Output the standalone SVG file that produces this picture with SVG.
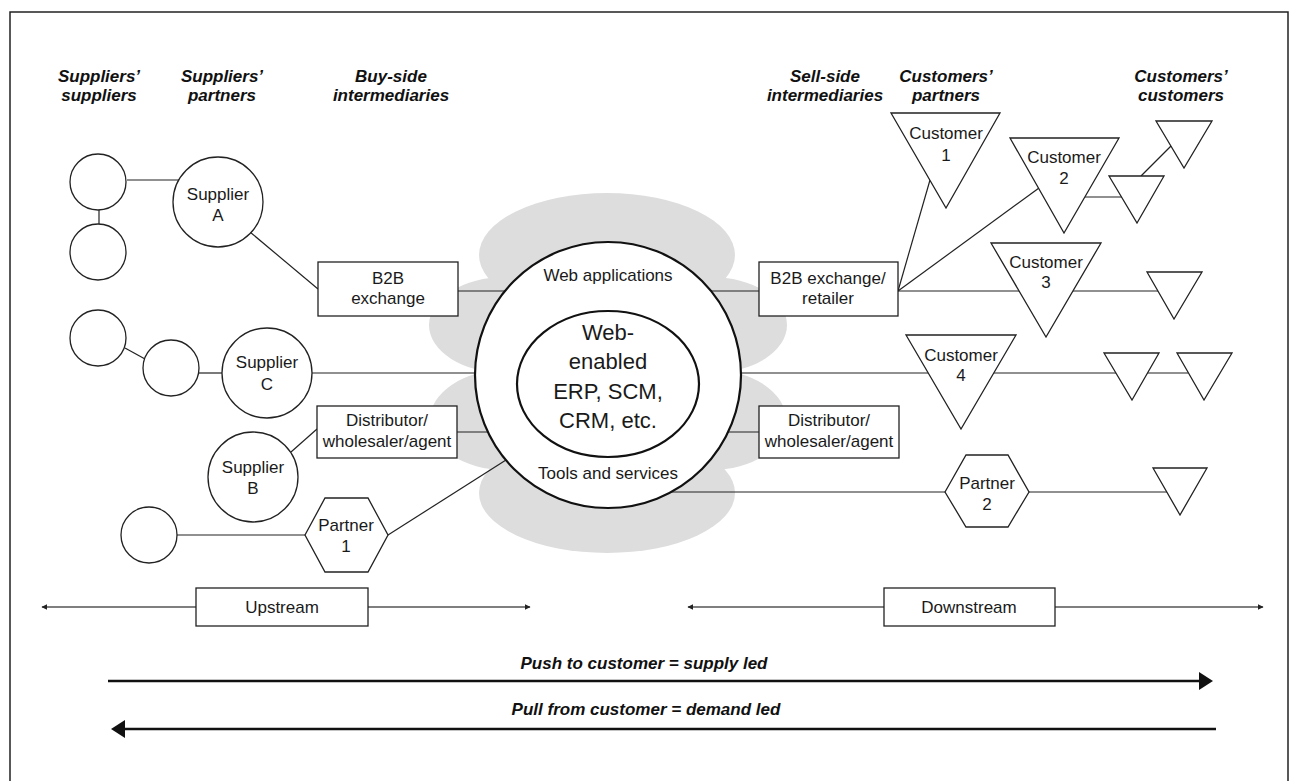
<svg xmlns="http://www.w3.org/2000/svg" width="1298" height="781" viewBox="0 0 1298 781">
<defs>
<style>
.hdr{font-family:"Liberation Sans",Arial,sans-serif;font-size:17px;font-weight:bold;font-style:italic;text-anchor:middle;fill:#111}
.lbl{font-family:"Liberation Sans",Arial,sans-serif;font-size:17px;text-anchor:middle;fill:#1a1a1a}
.big{font-size:22px}
.shape{fill:#fff;stroke:#222;stroke-width:1.3}
.core{fill:#fff;stroke:#111;stroke-width:2.2}
.conn{stroke:#222;stroke-width:1.2;fill:none}
.span{stroke:#555;stroke-width:1.6;fill:none}
.flow{stroke:#111;stroke-width:2.6;fill:none}
.cloud{fill:#dddddd}
</style>
<marker id="sm" viewBox="0 0 10 10" refX="9" refY="5" markerWidth="6" markerHeight="6" markerUnits="userSpaceOnUse" orient="auto-start-reverse">
<path d="M0,0 L10,5 L0,10 z" fill="#222"/>
</marker>
<marker id="lg" viewBox="0 0 14 18" refX="2" refY="9" markerWidth="14" markerHeight="18" markerUnits="userSpaceOnUse" orient="auto">
<path d="M0,0 L14,9 L0,18 z" fill="#111"/>
</marker>
</defs>

<path d="M10,781 V12 H1288 V781" fill="none" stroke="#222" stroke-width="1.5"/>

<g id="cloud" class="cloud">
<ellipse cx="607" cy="255" rx="128" ry="62"/>
<ellipse cx="505" cy="325" rx="76" ry="48"/>
<ellipse cx="711" cy="325" rx="76" ry="48"/>
<ellipse cx="505" cy="420" rx="75" ry="50"/>
<ellipse cx="711" cy="420" rx="75" ry="50"/>
<ellipse cx="607" cy="493" rx="128" ry="60"/>
</g>

<g id="headers" class="hdr">
<text x="99" y="82">Suppliers’</text><text x="99" y="101">suppliers</text>
<text x="222" y="82">Suppliers’</text><text x="222" y="101">partners</text>
<text x="391" y="82">Buy-side</text><text x="391" y="101">intermediaries</text>
<text x="825" y="82">Sell-side</text><text x="825" y="101">intermediaries</text>
<text x="946" y="82">Customers’</text><text x="946" y="101">partners</text>
<text x="1181" y="82">Customers’</text><text x="1181" y="101">customers</text>
</g>

<g id="connectors">
<line class="conn" x1="127" y1="180" x2="179" y2="180"/>
<line class="conn" x1="99" y1="210" x2="99" y2="224"/>
<line class="conn" x1="250" y1="232" x2="318" y2="289"/>
<line class="conn" x1="125" y1="348" x2="145" y2="359"/>
<line class="conn" x1="199" y1="373" x2="222" y2="373"/>
<line class="conn" x1="312" y1="373" x2="480" y2="373"/>
<line class="conn" x1="291" y1="452" x2="317" y2="429"/>
<line class="conn" x1="177" y1="535" x2="305" y2="535"/>
<line class="conn" x1="388" y1="535" x2="506" y2="460"/>
<line class="conn" x1="458" y1="291" x2="510" y2="291"/>
<line class="conn" x1="457" y1="432" x2="492" y2="432"/>
<line class="conn" x1="706" y1="291" x2="759" y2="291"/>
<line class="conn" x1="724" y1="432" x2="759" y2="432"/>
<line class="conn" x1="736" y1="373" x2="1188" y2="373"/>
<line class="conn" x1="671" y1="492" x2="1167" y2="492"/>
<line class="conn" x1="898" y1="291" x2="1158" y2="291"/>
<line class="conn" x1="898" y1="291" x2="930" y2="180"/>
<line class="conn" x1="898" y1="291" x2="1039" y2="188"/>
<line class="conn" x1="1085" y1="197" x2="1122" y2="197"/>
<line class="conn" x1="1141" y1="176" x2="1171" y2="146"/>
</g>

<g id="ss1"><circle class="shape" cx="98" cy="182" r="28"/></g>
<g id="ss2"><circle class="shape" cx="98" cy="252" r="28"/></g>
<g id="ss3"><circle class="shape" cx="98" cy="338" r="28"/></g>
<g id="ss4"><circle class="shape" cx="171" cy="368" r="28"/></g>
<g id="ss5"><circle class="shape" cx="149" cy="535" r="28"/></g>
<g id="supplierA"><circle class="shape" cx="218" cy="202" r="45"/>
<text class="lbl" x="218" y="200">Supplier</text><text class="lbl" x="218" y="221">A</text></g>
<g id="supplierC"><circle class="shape" cx="267" cy="373" r="45"/>
<text class="lbl" x="267" y="368">Supplier</text><text class="lbl" x="267" y="390">C</text></g>
<g id="supplierB"><circle class="shape" cx="253" cy="477" r="45"/>
<text class="lbl" x="253" y="473">Supplier</text><text class="lbl" x="253" y="494">B</text></g>
<g id="partner1"><polygon class="shape" points="305,535 325,498 368,498 388,535 368,572 325,572"/>
<text class="lbl" x="346" y="531">Partner</text><text class="lbl" x="346" y="552">1</text></g>

<g id="b2bLeft"><rect class="shape" x="318" y="262" width="140" height="54"/>
<text class="lbl" x="388" y="284">B2B</text><text class="lbl" x="388" y="304">exchange</text></g>
<g id="distLeft"><rect class="shape" x="317" y="406" width="140" height="52"/>
<text class="lbl" x="387" y="426">Distributor/</text><text class="lbl" x="387" y="447">wholesaler/agent</text></g>

<g id="core">
<circle class="core" cx="608" cy="375" r="133"/>
<ellipse class="core" cx="608" cy="384" rx="91" ry="73"/>
<text class="lbl" x="608" y="281">Web applications</text>
<text class="lbl" x="608" y="479">Tools and services</text>
<text class="lbl big" x="608" y="340">Web-</text>
<text class="lbl big" x="608" y="369">enabled</text>
<text class="lbl big" x="608" y="399">ERP, SCM,</text>
<text class="lbl big" x="608" y="428">CRM, etc.</text>
</g>

<g id="b2bRight"><rect class="shape" x="759" y="262" width="139" height="54"/>
<text class="lbl" x="828" y="284">B2B exchange/</text><text class="lbl" x="828" y="304">retailer</text></g>
<g id="distRight"><rect class="shape" x="759" y="406" width="140" height="52"/>
<text class="lbl" x="829" y="426">Distributor/</text><text class="lbl" x="829" y="447">wholesaler/agent</text></g>

<g id="customer1"><polygon class="shape" points="891,113 1000,113 946,208"/>
<text class="lbl" x="946" y="139">Customer</text><text class="lbl" x="946" y="161">1</text></g>
<g id="customer2"><polygon class="shape" points="1010,138 1119,138 1064,233"/>
<text class="lbl" x="1064" y="163">Customer</text><text class="lbl" x="1064" y="184">2</text></g>
<g id="customer3"><polygon class="shape" points="991,243 1101,243 1046,337"/>
<text class="lbl" x="1046" y="268">Customer</text><text class="lbl" x="1046" y="288">3</text></g>
<g id="customer4"><polygon class="shape" points="906,335 1016,335 961,429"/>
<text class="lbl" x="961" y="361">Customer</text><text class="lbl" x="961" y="381">4</text></g>
<g id="partner2"><polygon class="shape" points="945,492 966,455 1008,455 1029,492 1008,527 966,527"/>
<text class="lbl" x="987" y="489">Partner</text><text class="lbl" x="987" y="510">2</text></g>

<g id="cc1"><polygon class="shape" points="1156,121 1212,121 1184,168"/></g>
<g id="cc2"><polygon class="shape" points="1109,176 1164,176 1137,223"/></g>
<g id="cc3"><polygon class="shape" points="1147,272 1202,272 1174,319"/></g>
<g id="cc4"><polygon class="shape" points="1104,353 1159,353 1132,400"/></g>
<g id="cc5"><polygon class="shape" points="1177,353 1232,353 1204,400"/></g>
<g id="cc6"><polygon class="shape" points="1153,468 1207,468 1180,515"/></g>

<g id="upstream">
<line class="span" x1="42" y1="607" x2="530" y2="607" marker-start="url(#sm)" marker-end="url(#sm)"/>
<rect class="shape" x="196" y="588" width="172" height="38"/>
<text class="lbl" x="282" y="613">Upstream</text>
</g>
<g id="downstream">
<line class="span" x1="688" y1="607" x2="1263" y2="607" marker-start="url(#sm)" marker-end="url(#sm)"/>
<rect class="shape" x="884" y="588" width="171" height="38"/>
<text class="lbl" x="969" y="613">Downstream</text>
</g>

<g id="push">
<text class="hdr" x="644" y="669">Push to customer = supply led</text>
<line class="flow" x1="108" y1="681" x2="1201" y2="681" marker-end="url(#lg)"/>
</g>
<g id="pull">
<text class="hdr" x="646" y="715">Pull from customer = demand led</text>
<line class="flow" x1="1216" y1="729" x2="123" y2="729" marker-end="url(#lg)"/>
</g>
</svg>
